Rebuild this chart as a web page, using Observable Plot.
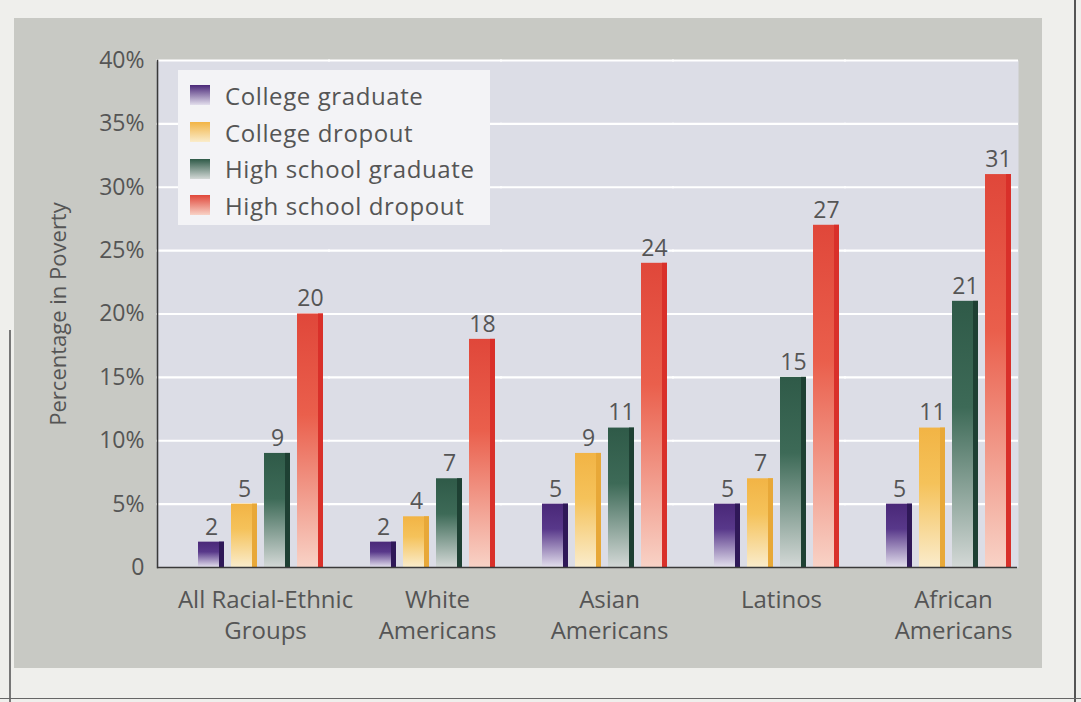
<!DOCTYPE html>
<html>
<head>
<meta charset="utf-8">
<script src="https://cdn.jsdelivr.net/npm/d3@7"></script>
<script src="https://cdn.jsdelivr.net/npm/@observablehq/plot@0.6"></script>
<style>
html, body { margin: 0; padding: 0; }
body { width: 1081px; height: 702px; background: #efefec; position: relative; overflow: hidden; font-family: "Open Sans", sans-serif; }
#panel { position: absolute; left: 14px; top: 18px; width: 1028px; height: 650px; background: #c8c9c4; }
#chart { position: absolute; left: 10px; top: 25px; }
#legend { position: absolute; left: 178px; top: 70px; width: 312px; height: 155px; background: #f3f3f6; box-sizing: border-box; padding: 7px 0 0 12px; }
.row { display: flex; align-items: center; height: 36.7px; font-size: 24px; letter-spacing: 0.6px; color: #555; white-space: nowrap; }
.sw { width: 20px; height: 20px; margin-right: 15px; flex: none; }
#rline { position: absolute; left: 1074px; top: 0; width: 2px; height: 702px; background: #555; }
#bline { position: absolute; left: 0; top: 698px; width: 1081px; height: 1px; background: #666; }
#lline { position: absolute; left: 9px; top: 330px; width: 1.5px; height: 372px; background: #777; }
</style>
</head>
<body>
<div id="panel"></div>
<div id="lline"></div>
<div id="rline"></div>
<div id="bline"></div>
<div id="chart"></div>
<div id="legend"></div>
<script>
// ---- data ----
const groups = ["All Racial-Ethnic Groups", "White Americans", "Asian Americans", "Latinos", "African Americans"];
const groupLabels = ["All Racial-Ethnic\nGroups", "White\nAmericans", "Asian\nAmericans", "Latinos", "African\nAmericans"];
const series = ["College graduate", "College dropout", "High school graduate", "High school dropout"];
const collegeGraduate = [2, 2, 5, 5, 5];
const collegeDropout = [5, 4, 9, 7, 11];
const highSchoolGraduate = [9, 7, 11, 15, 21];
const highSchoolDropout = [20, 18, 24, 27, 31];
const yTicks = [0, 5, 10, 15, 20, 25, 30, 35, 40];

// ---- styles ----
const topColors = ["#4a2878", "#f2b445", "#2f5a48", "#e0473a"];
const midColors = ["#58388a", "#f5c25a", "#3d6a57", "#ea5f4c"];
const bottomColors = ["#e2deec", "#faeccb", "#d3d8d6", "#f8d2c6"];
const edgeColors = ["#2f1858", "#e8a838", "#1e4033", "#d9302a"];

const valuesBySeries = [collegeGraduate, collegeDropout, highSchoolGraduate, highSchoolDropout];
const data = groups.flatMap((g, i) => series.map((s, j) => ({group: g, series: s, value: valuesBySeries[j][i]})));

const bars = series.map((s, j) => Plot.barY(data.filter(d => d.series === s), {
  fx: "group", x: "series", y: "value", fill: `url(#grad${j})`
}));
const edges = series.map((s, j) => Plot.barY(data.filter(d => d.series === s), {
  fx: "group", x: "series", y: "value", fill: edgeColors[j], insetLeft: 21
}));

const plot = Plot.plot({
  width: 1020,
  height: 643,
  marginLeft: 147,
  marginRight: 13,
  marginTop: 35,
  marginBottom: 101,
  style: {background: "transparent", fontFamily: '"Open Sans", sans-serif', color: "#555", overflow: "visible"},
  fx: {domain: groups, padding: 0, axis: null, label: null},
  x: {domain: series, paddingInner: 0.2, paddingOuter: 0.67, align: 0.88, axis: null},
  y: {domain: [0, 40], axis: null, label: null},
  marks: [
    Plot.frame({fill: "#dcdde6", stroke: null, insetLeft: -1, insetRight: -1}),
    Plot.ruleY(yTicks.filter(d => d > 0), {stroke: "#ffffff", strokeWidth: 2.2, insetLeft: -1, insetRight: -1}),
    ...bars,
    ...edges,
    Plot.text(data, {fx: "group", x: "series", y: "value", text: d => String(d.value), dy: -15, fontSize: 23, fill: "#555"}),
    Plot.ruleY([0], {stroke: "#3a3a3a", strokeWidth: 1.6}),
    Plot.frame({anchor: "left", facetAnchor: "left", stroke: "#3a3a3a", strokeWidth: 1.6}),
    Plot.axisY({
      ticks: yTicks, tickFormat: d => d === 0 ? "0" : d + "%", tickSize: 0, tickPadding: 13,
      fontSize: 23, label: null, style: {letterSpacing: "1.5px"}
    }),
    Plot.axisY({
      ticks: [], tickSize: 0, fontSize: 22, label: "Percentage in Poverty",
      labelAnchor: "center", labelOffset: 107, labelArrow: "none", style: {letterSpacing: "0.4px"}
    }),
    Plot.axisFx({
      anchor: "bottom", tickSize: 0, tickPadding: 18, fontSize: 24, lineHeight: 1.3, dx: 22,
      tickFormat: d => groupLabels[groups.indexOf(d)], label: null, style: {letterSpacing: "0.6px"}
    })
  ]
});

const defs = d3.select(plot).insert("defs", ":first-child");
topColors.forEach((c, j) => {
  const g = defs.append("linearGradient").attr("id", `grad${j}`).attr("x1", 0).attr("y1", 0).attr("x2", 0).attr("y2", 1);
  g.append("stop").attr("offset", "0%").attr("stop-color", c);
  g.append("stop").attr("offset", "40%").attr("stop-color", midColors[j]);
  g.append("stop").attr("offset", "100%").attr("stop-color", bottomColors[j]);
});
document.getElementById("chart").append(plot);

const legend = d3.select("#legend");
series.forEach((s, j) => {
  const row = legend.append("div").attr("class", "row");
  row.append("div").attr("class", "sw").style("background", `linear-gradient(to bottom, ${topColors[j]}, ${bottomColors[j]})`);
  row.append("span").text(s);
});
</script>
</body>
</html>
